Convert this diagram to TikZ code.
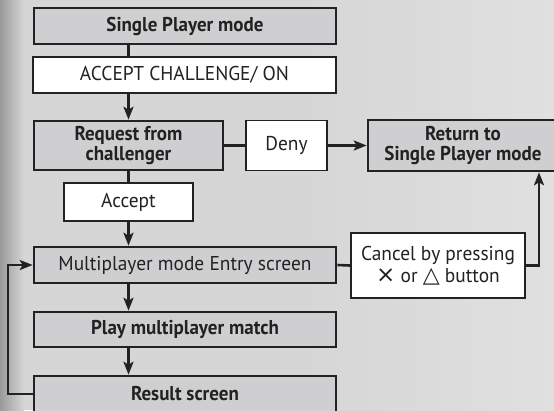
\documentclass[tikz,border=0pt]{standalone}
\usepackage{fontspec}
\setmainfont{PT Sans}[FakeStretch=0.97, BoldFeatures={FakeStretch=0.95}]
\newfontfamily\symfont{DejaVu Sans}
\usetikzlibrary{arrows.meta}
\definecolor{bgmain}{HTML}{D6D6D6}
\definecolor{bgedge}{HTML}{9A9A9A}
\definecolor{bgright}{HTML}{E0E0E0}
\definecolor{boxgrey}{HTML}{CFCFD1}
\definecolor{ink}{HTML}{222222}
\tikzset{
  x=1pt, y=-1pt,
  every node/.style={text=ink, inner sep=0pt, align=center},
  labelfont/.style={font=\fontsize{20}{20.5}\selectfont},
  greybox/.style={draw=ink, line width=2.6pt, fill=boxgrey, font=\bfseries\fontsize{20}{20.5}\selectfont},
  whitebox/.style={draw=ink, line width=1.6pt, fill=white, labelfont},
  link/.style={draw=ink, line width=2.6pt},
  arr/.style={link, -{Stealth[length=13pt, width=10pt, inset=3pt]}}
}
\begin{document}
\begin{tikzpicture}
% background
\useasboundingbox (0,0) rectangle (554,410);
\fill[bgmain] (0,0) rectangle (554,410);
\shade[left color=bgmain, right color=bgright] (300,0) rectangle (554,410);
\shade[left color=bgedge, right color=bgmain] (0,0) rectangle (24,410);

% boxes
\node[greybox, minimum width=302pt, minimum height=36pt] (spm) at (185,26) {Single Player mode};
\node[whitebox, minimum width=303pt, minimum height=36pt] (chal) at (184.5,75) {ACCEPT CHALLENGE/ ON};
\node[greybox, minimum width=189pt, minimum height=49pt] (req) at (128.5,145.5) {Request from\\challenger};
\node[whitebox, minimum width=81pt, minimum height=50pt] (deny) at (286.5,145.5) {Deny};
\node[greybox, minimum width=190pt, minimum height=51pt] (ret) at (463,145.5) {Return to\\Single Player mode};
\node[whitebox, minimum width=129pt, minimum height=38pt] (acc) at (128.5,202) {Accept};
\node[greybox, labelfont, minimum width=302pt, minimum height=36pt] (mp) at (185,265) {Multiplayer mode Entry screen};
\node[greybox, minimum width=302pt, minimum height=35pt] (play) at (185,329.5) {Play multiplayer match};
\node[greybox, minimum width=302pt, minimum height=36pt] (res) at (185,394) {Result screen};
\node[whitebox, font=\fontsize{20}{22}\selectfont, minimum width=174pt, minimum height=65pt] (cancel) at (438,265.5)
  {Cancel by pressing\\{\symfont\fontsize{23}{22}\selectfont ×} or {\symfont\fontsize{22}{22}\selectfont △} button};

% connectors
\draw[link] (spm.south -| req.center) -- (chal.north -| req.center);
\draw[arr] (chal.south -| req.center) -- (req.north);
\draw[link] (req.east) -- (deny.west);
\draw[arr] (deny.east) -- (ret.west);
\draw[link] (req.south) -- (acc.north);
\draw[arr] (acc.south) -- (mp.north -| acc.south);
\draw[arr] (mp.south -| acc.south) -- (play.north -| acc.south);
\draw[arr] (play.south -| acc.south) -- (res.north -| acc.south);
\coordinate (loop) at (8,394);
\draw[arr] (res.west) -- (loop) |- (mp.west);
\draw[link] (mp.east) -- (cancel.west);
\coordinate (up) at (539,265.5);
\draw[arr] (cancel.east) -- (up) -- (up |- ret.south);
\end{tikzpicture}
\end{document}
